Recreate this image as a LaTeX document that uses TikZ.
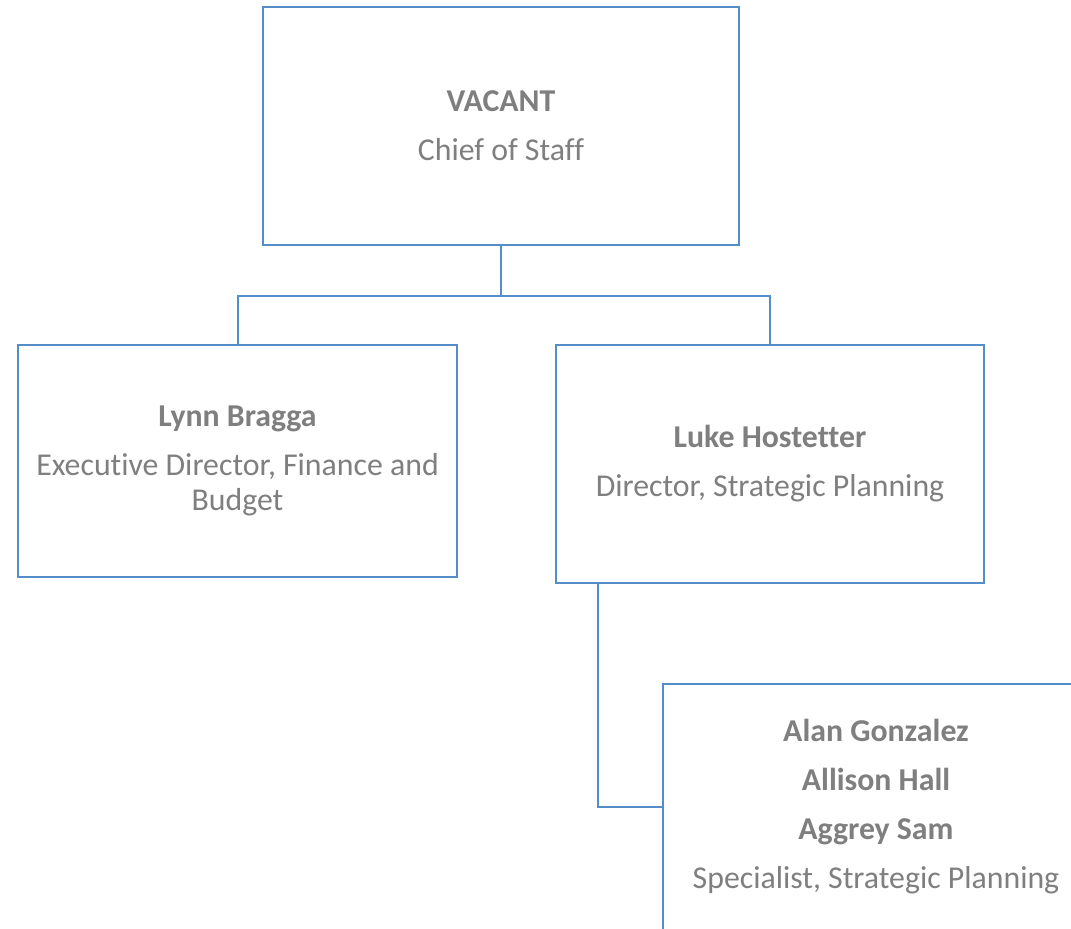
\documentclass[tikz,border=0pt]{standalone}
\usepackage{fontspec}
\setmainfont{Carlito}[Ligatures={NoCommon}]
\usepackage{tikz}
\usetikzlibrary{positioning,calc}
\definecolor{boxblue}{RGB}{84,141,199}
\definecolor{txtgray}{RGB}{127,127,127}
\tikzset{
	orgbox/.style={draw=boxblue,line width=1pt,fill=white,inner sep=0pt,
		text=txtgray,align=center,font=\fontsize{15.9}{17.5}\selectfont},
	link/.style={draw=boxblue,line width=1pt}
}

\begin{document}
\begin{tikzpicture}[x=0.5pt,y=-0.5pt]
	
	\useasboundingbox (0,0) rectangle (1071,929);
	\clip (0,0) rectangle (1071,929);
	
	%Boites
	\node[orgbox,minimum width=238pt,minimum height=119pt] (chief) at (501,126)
		{\textbf{VACANT}\\[7pt]Chief of Staff};
	\node[orgbox,minimum width=219.5pt,minimum height=116pt] (bragga) at (237.5,461)
		{\textbf{Lynn Bragga}\\[7pt]Executive Director, Finance and\\Budget};
	\node[orgbox,minimum width=214pt,minimum height=119pt] (hostetter) at (770,464)
		{\textbf{Luke Hostetter}\\[7pt]Director, Strategic Planning};
	\node[orgbox,minimum width=213pt,minimum height=123pt] (team) at (876,807)
		{\textbf{Alan Gonzalez}\\[7pt]\textbf{Allison Hall}\\[7pt]\textbf{Aggrey Sam}\\[7pt]Specialist, Strategic Planning};
	
	%Liens
	\coordinate (split) at ($(chief.south)+(0,50)$);
	\draw[link] (chief.south) -- (split) -| (bragga.north);
	\draw[link] (split) -| (hostetter.north);
	
	\coordinate (drop) at ($(hostetter.south west)+(43,0)$);
	\draw[link] (drop) |- (team.west);
	
\end{tikzpicture}
\end{document}
